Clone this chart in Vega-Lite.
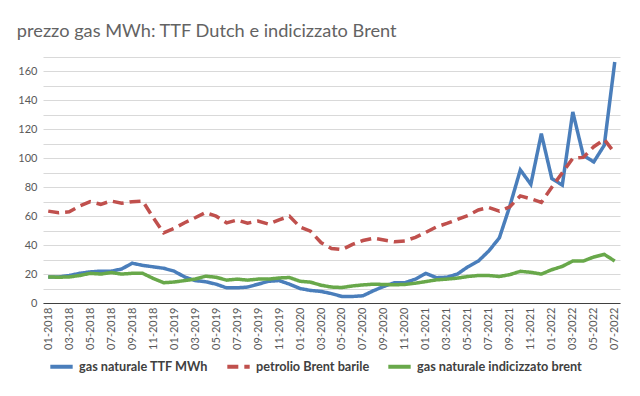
{
  "$schema": "https://vega.github.io/schema/vega-lite/v6.json",
  "width": 577,
  "height": 246,
  "autosize": {"type": "none"},
  "padding": {"left": 43, "top": 57, "right": 20, "bottom": 93},
  "background": "white",
  "title": {"text": "prezzo gas MWh: TTF Dutch e indicizzato Brent", "anchor": "start", "dx": -1, "offset": 14, "font": "Lato", "fontSize": 18.2, "fontWeight": "normal", "color": "#636363"},
  "config": {"view": {"stroke": null}, "font": "Lato"},
  "data": {"values": [
    {"mese": "01-2018", "gas naturale TTF MWh": 18, "petrolio Brent barile": 63.5, "gas naturale indicizzato brent": 18},
    {"mese": "02-2018", "gas naturale TTF MWh": 18, "petrolio Brent barile": 62.4, "gas naturale indicizzato brent": 17.8},
    {"mese": "03-2018", "gas naturale TTF MWh": 19, "petrolio Brent barile": 63, "gas naturale indicizzato brent": 18},
    {"mese": "04-2018", "gas naturale TTF MWh": 20.5, "petrolio Brent barile": 67, "gas naturale indicizzato brent": 19},
    {"mese": "05-2018", "gas naturale TTF MWh": 21.5, "petrolio Brent barile": 70, "gas naturale indicizzato brent": 20.5},
    {"mese": "06-2018", "gas naturale TTF MWh": 22, "petrolio Brent barile": 68.2, "gas naturale indicizzato brent": 20},
    {"mese": "07-2018", "gas naturale TTF MWh": 22, "petrolio Brent barile": 70.5, "gas naturale indicizzato brent": 21},
    {"mese": "08-2018", "gas naturale TTF MWh": 23.5, "petrolio Brent barile": 68.9, "gas naturale indicizzato brent": 20},
    {"mese": "09-2018", "gas naturale TTF MWh": 27.5, "petrolio Brent barile": 70, "gas naturale indicizzato brent": 20.5},
    {"mese": "10-2018", "gas naturale TTF MWh": 26, "petrolio Brent barile": 70.5, "gas naturale indicizzato brent": 20.5},
    {"mese": "11-2018", "gas naturale TTF MWh": 25, "petrolio Brent barile": 59, "gas naturale indicizzato brent": 17},
    {"mese": "12-2018", "gas naturale TTF MWh": 24, "petrolio Brent barile": 48.5, "gas naturale indicizzato brent": 14},
    {"mese": "01-2019", "gas naturale TTF MWh": 22, "petrolio Brent barile": 51.5, "gas naturale indicizzato brent": 14.5},
    {"mese": "02-2019", "gas naturale TTF MWh": 18, "petrolio Brent barile": 55.5, "gas naturale indicizzato brent": 15.5},
    {"mese": "03-2019", "gas naturale TTF MWh": 15.5, "petrolio Brent barile": 58.9, "gas naturale indicizzato brent": 16.5},
    {"mese": "04-2019", "gas naturale TTF MWh": 14.7, "petrolio Brent barile": 62.5, "gas naturale indicizzato brent": 18.5},
    {"mese": "05-2019", "gas naturale TTF MWh": 13, "petrolio Brent barile": 60, "gas naturale indicizzato brent": 17.8},
    {"mese": "06-2019", "gas naturale TTF MWh": 10.5, "petrolio Brent barile": 55.4, "gas naturale indicizzato brent": 15.8},
    {"mese": "07-2019", "gas naturale TTF MWh": 10.5, "petrolio Brent barile": 57.3, "gas naturale indicizzato brent": 16.5},
    {"mese": "08-2019", "gas naturale TTF MWh": 11, "petrolio Brent barile": 55.2, "gas naturale indicizzato brent": 15.8},
    {"mese": "09-2019", "gas naturale TTF MWh": 13, "petrolio Brent barile": 56.6, "gas naturale indicizzato brent": 16.5},
    {"mese": "10-2019", "gas naturale TTF MWh": 15, "petrolio Brent barile": 54.5, "gas naturale indicizzato brent": 16.5},
    {"mese": "11-2019", "gas naturale TTF MWh": 15.5, "petrolio Brent barile": 57.5, "gas naturale indicizzato brent": 17.3},
    {"mese": "12-2019", "gas naturale TTF MWh": 13, "petrolio Brent barile": 60, "gas naturale indicizzato brent": 17.6},
    {"mese": "01-2020", "gas naturale TTF MWh": 10, "petrolio Brent barile": 52.5, "gas naturale indicizzato brent": 15},
    {"mese": "02-2020", "gas naturale TTF MWh": 8.7, "petrolio Brent barile": 49.6, "gas naturale indicizzato brent": 14.4},
    {"mese": "03-2020", "gas naturale TTF MWh": 8, "petrolio Brent barile": 41.8, "gas naturale indicizzato brent": 12.3},
    {"mese": "04-2020", "gas naturale TTF MWh": 6.5, "petrolio Brent barile": 37.7, "gas naturale indicizzato brent": 11},
    {"mese": "05-2020", "gas naturale TTF MWh": 4.5, "petrolio Brent barile": 36.9, "gas naturale indicizzato brent": 10.7},
    {"mese": "06-2020", "gas naturale TTF MWh": 4.5, "petrolio Brent barile": 40.5, "gas naturale indicizzato brent": 11.8},
    {"mese": "07-2020", "gas naturale TTF MWh": 5, "petrolio Brent barile": 43.2, "gas naturale indicizzato brent": 12.5},
    {"mese": "08-2020", "gas naturale TTF MWh": 8.5, "petrolio Brent barile": 44.8, "gas naturale indicizzato brent": 13},
    {"mese": "09-2020", "gas naturale TTF MWh": 11.5, "petrolio Brent barile": 43.5, "gas naturale indicizzato brent": 12.8},
    {"mese": "10-2020", "gas naturale TTF MWh": 14, "petrolio Brent barile": 42.3, "gas naturale indicizzato brent": 12.6},
    {"mese": "11-2020", "gas naturale TTF MWh": 14, "petrolio Brent barile": 42.9, "gas naturale indicizzato brent": 12.8},
    {"mese": "12-2020", "gas naturale TTF MWh": 16.5, "petrolio Brent barile": 45.4, "gas naturale indicizzato brent": 13.7},
    {"mese": "01-2021", "gas naturale TTF MWh": 20.5, "petrolio Brent barile": 48.9, "gas naturale indicizzato brent": 14.8},
    {"mese": "02-2021", "gas naturale TTF MWh": 17.5, "petrolio Brent barile": 52.6, "gas naturale indicizzato brent": 16},
    {"mese": "03-2021", "gas naturale TTF MWh": 17.8, "petrolio Brent barile": 55, "gas naturale indicizzato brent": 16.5},
    {"mese": "04-2021", "gas naturale TTF MWh": 20, "petrolio Brent barile": 57.7, "gas naturale indicizzato brent": 17.2},
    {"mese": "05-2021", "gas naturale TTF MWh": 25, "petrolio Brent barile": 60.5, "gas naturale indicizzato brent": 18.3},
    {"mese": "06-2021", "gas naturale TTF MWh": 29, "petrolio Brent barile": 64.3, "gas naturale indicizzato brent": 19},
    {"mese": "07-2021", "gas naturale TTF MWh": 36, "petrolio Brent barile": 66, "gas naturale indicizzato brent": 19},
    {"mese": "08-2021", "gas naturale TTF MWh": 45, "petrolio Brent barile": 63.5, "gas naturale indicizzato brent": 18.3},
    {"mese": "09-2021", "gas naturale TTF MWh": 67, "petrolio Brent barile": 66.5, "gas naturale indicizzato brent": 19.6},
    {"mese": "10-2021", "gas naturale TTF MWh": 92, "petrolio Brent barile": 74, "gas naturale indicizzato brent": 21.9},
    {"mese": "11-2021", "gas naturale TTF MWh": 82, "petrolio Brent barile": 72, "gas naturale indicizzato brent": 21.2},
    {"mese": "12-2021", "gas naturale TTF MWh": 117, "petrolio Brent barile": 69.5, "gas naturale indicizzato brent": 20},
    {"mese": "01-2022", "gas naturale TTF MWh": 86, "petrolio Brent barile": 80, "gas naturale indicizzato brent": 23},
    {"mese": "02-2022", "gas naturale TTF MWh": 81.5, "petrolio Brent barile": 90, "gas naturale indicizzato brent": 25.3},
    {"mese": "03-2022", "gas naturale TTF MWh": 132, "petrolio Brent barile": 100, "gas naturale indicizzato brent": 29},
    {"mese": "04-2022", "gas naturale TTF MWh": 102, "petrolio Brent barile": 100.6, "gas naturale indicizzato brent": 29},
    {"mese": "05-2022", "gas naturale TTF MWh": 97.5, "petrolio Brent barile": 108, "gas naturale indicizzato brent": 31.8},
    {"mese": "06-2022", "gas naturale TTF MWh": 109, "petrolio Brent barile": 113, "gas naturale indicizzato brent": 33.6},
    {"mese": "07-2022", "gas naturale TTF MWh": 166.5, "petrolio Brent barile": 103.6, "gas naturale indicizzato brent": 29}
  ]},
  "transform": [
    {"fold": ["gas naturale TTF MWh", "petrolio Brent barile", "gas naturale indicizzato brent"], "as": ["serie", "valore"]}
  ],
  "mark": {"type": "line", "strokeWidth": 3.5},
  "encoding": {
    "x": {
      "field": "mese", "type": "nominal", "sort": null,
      "scale": {"padding": 0.5},
      "axis": {
        "title": null, "labelAngle": -90, "labelOverlap": false,
        "labelExpr": "toNumber(substring(datum.value, 0, 2)) % 2 == 1 ? datum.value : ''",
        "ticks": false, "grid": false, "domainColor": "#404040", "domainWidth": 1,
        "labelFont": "Lato", "labelFontSize": 11, "labelColor": "#595959", "labelPadding": 4
      }
    },
    "y": {
      "field": "valore", "type": "quantitative",
      "scale": {"domain": [0, 170], "nice": false},
      "axis": {
        "title": null,
        "values": [0, 10, 20, 30, 40, 50, 60, 70, 80, 90, 100, 110, 120, 130, 140, 150, 160, 170],
        "labelExpr": "datum.value % 20 == 0 ? datum.label : ''",
        "ticks": false, "domain": false, "gridColor": "#d9d9d9", "gridWidth": 1,
        "labelFont": "Lato", "labelFontSize": 11, "labelColor": "#595959", "labelPadding": 6
      }
    },
    "color": {
      "field": "serie", "type": "nominal",
      "scale": {"domain": ["gas naturale TTF MWh", "petrolio Brent barile", "gas naturale indicizzato brent"], "range": ["#4a7ebb", "#c0504d", "#68a84a"]},
      "legend": {
        "title": null, "orient": "none", "legendX": 5, "legendY": 296, "direction": "horizontal",
        "symbolType": "stroke", "symbolStrokeWidth": 4, "symbolSize": 500,
        "labelFont": "Lato", "labelFontSize": 12.7, "labelColor": "#404040", "labelFontWeight": "bold",
        "columnPadding": 10, "labelLimit": 300
      }
    },
    "strokeDash": {
      "field": "serie", "type": "nominal",
      "scale": {"domain": ["gas naturale TTF MWh", "petrolio Brent barile", "gas naturale indicizzato brent"], "range": [[1, 0], [11, 6], [1, 0]]}
    }
  }
}
